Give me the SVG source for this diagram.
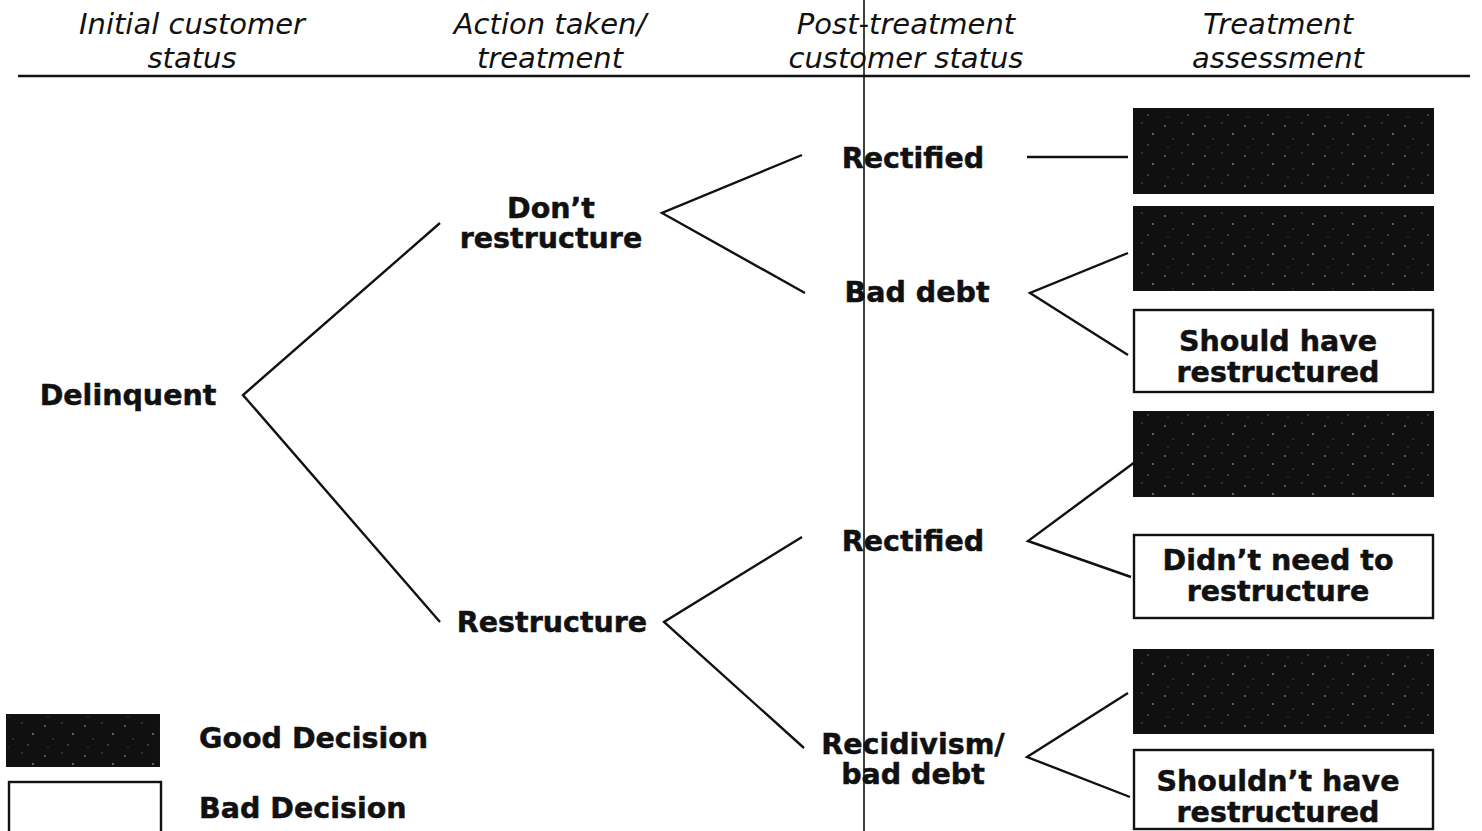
<svg xmlns="http://www.w3.org/2000/svg" width="1482" height="831" viewBox="0 0 1482 831">
<style>
.hd{font-family:"DejaVu Sans",Verdana,sans-serif;font-style:italic;font-size:29px;fill:#111;text-anchor:middle}
.lb{font-family:"DejaVu Sans",Verdana,sans-serif;font-weight:bold;font-size:28.5px;fill:#111;stroke:#111;stroke-width:0.5;text-anchor:middle}
.ln{stroke:#111;stroke-width:2.4;fill:none}
.good{fill:url(#speck);stroke:#111;stroke-width:2}
.bad{fill:#fff;stroke:#111;stroke-width:2.4}
</style>
<defs>
<pattern id="speck" width="40" height="30" patternUnits="userSpaceOnUse">
<rect width="40" height="30" fill="#101010"/>
<circle cx="5" cy="6" r="0.9" fill="#777"/>
<circle cx="22" cy="3" r="0.7" fill="#666"/>
<circle cx="33" cy="14" r="0.9" fill="#888"/>
<circle cx="13" cy="19" r="0.7" fill="#555"/>
<circle cx="28" cy="25" r="0.8" fill="#777"/>
<circle cx="8" cy="27" r="0.6" fill="#666"/>
</pattern>
</defs>
<rect width="1482" height="831" fill="#fff"/>

<g id="headers">
<text class="hd" x="192" y="34">Initial customer</text>
<text class="hd" x="192" y="68">status</text>
<text class="hd" x="550" y="34">Action taken/</text>
<text class="hd" x="550" y="68">treatment</text>
<text class="hd" x="906" y="34">Post-treatment</text>
<text class="hd" x="906" y="68">customer status</text>
<text class="hd" x="1278" y="34">Treatment</text>
<text class="hd" x="1278" y="68">assessment</text>
<line class="ln" x1="18" y1="76" x2="1470" y2="76"/>
<line x1="864" y1="0" x2="864" y2="831" stroke="#111" stroke-width="1.6"/>
</g>

<g id="connectors">
<polyline class="ln" points="440,223 243,395 440,622"/>
<polyline class="ln" points="802,155 662,213 805,293"/>
<polyline class="ln" points="802,537 664,622 804,748"/>
<line class="ln" x1="1027" y1="157" x2="1128" y2="157"/>
<polyline class="ln" points="1128,253 1030,293 1128,355"/>
<polyline class="ln" points="1135,462 1028,541 1131,577"/>
<polyline class="ln" points="1128,693 1027,757 1130,797"/>
</g>

<g id="n-delinquent"><text class="lb" x="128" y="405">Delinquent</text></g>
<g id="n-dont"><text class="lb" x="551" y="218">Don’t</text><text class="lb" x="551" y="248">restructure</text></g>
<g id="n-restructure"><text class="lb" x="552" y="632">Restructure</text></g>
<g id="n-rectified1"><text class="lb" x="913" y="168">Rectified</text></g>
<g id="n-baddebt"><text class="lb" x="917" y="302">Bad debt</text></g>
<g id="n-rectified2"><text class="lb" x="913" y="551">Rectified</text></g>
<g id="n-recid"><text class="lb" x="913" y="754">Recidivism/</text><text class="lb" x="913" y="784">bad debt</text></g>

<g id="b1"><rect class="good" x="1134" y="109" width="299" height="84"/></g>
<g id="b2"><rect class="good" x="1134" y="207" width="299" height="83"/></g>
<g id="b3"><rect class="bad" x="1134" y="310" width="299" height="82"/><text class="lb" x="1278" y="351">Should have</text><text class="lb" x="1278" y="382">restructured</text></g>
<g id="b4"><rect class="good" x="1134" y="412" width="299" height="84"/></g>
<g id="b5"><rect class="bad" x="1134" y="535" width="299" height="83"/><text class="lb" x="1278" y="570">Didn’t need to</text><text class="lb" x="1278" y="601">restructure</text></g>
<g id="b6"><rect class="good" x="1134" y="650" width="299" height="83"/></g>
<g id="b7"><rect class="bad" x="1134" y="750" width="299" height="79"/><text class="lb" x="1278" y="791">Shouldn’t have</text><text class="lb" x="1278" y="822">restructured</text></g>

<g id="legend">
<rect class="good" x="7" y="715" width="152" height="51"/>
<rect class="bad" x="9" y="782" width="152" height="52"/>
<text class="lb" x="199" y="748" style="text-anchor:start">Good Decision</text>
<text class="lb" x="199" y="818" style="text-anchor:start">Bad Decision</text>
</g>
</svg>
